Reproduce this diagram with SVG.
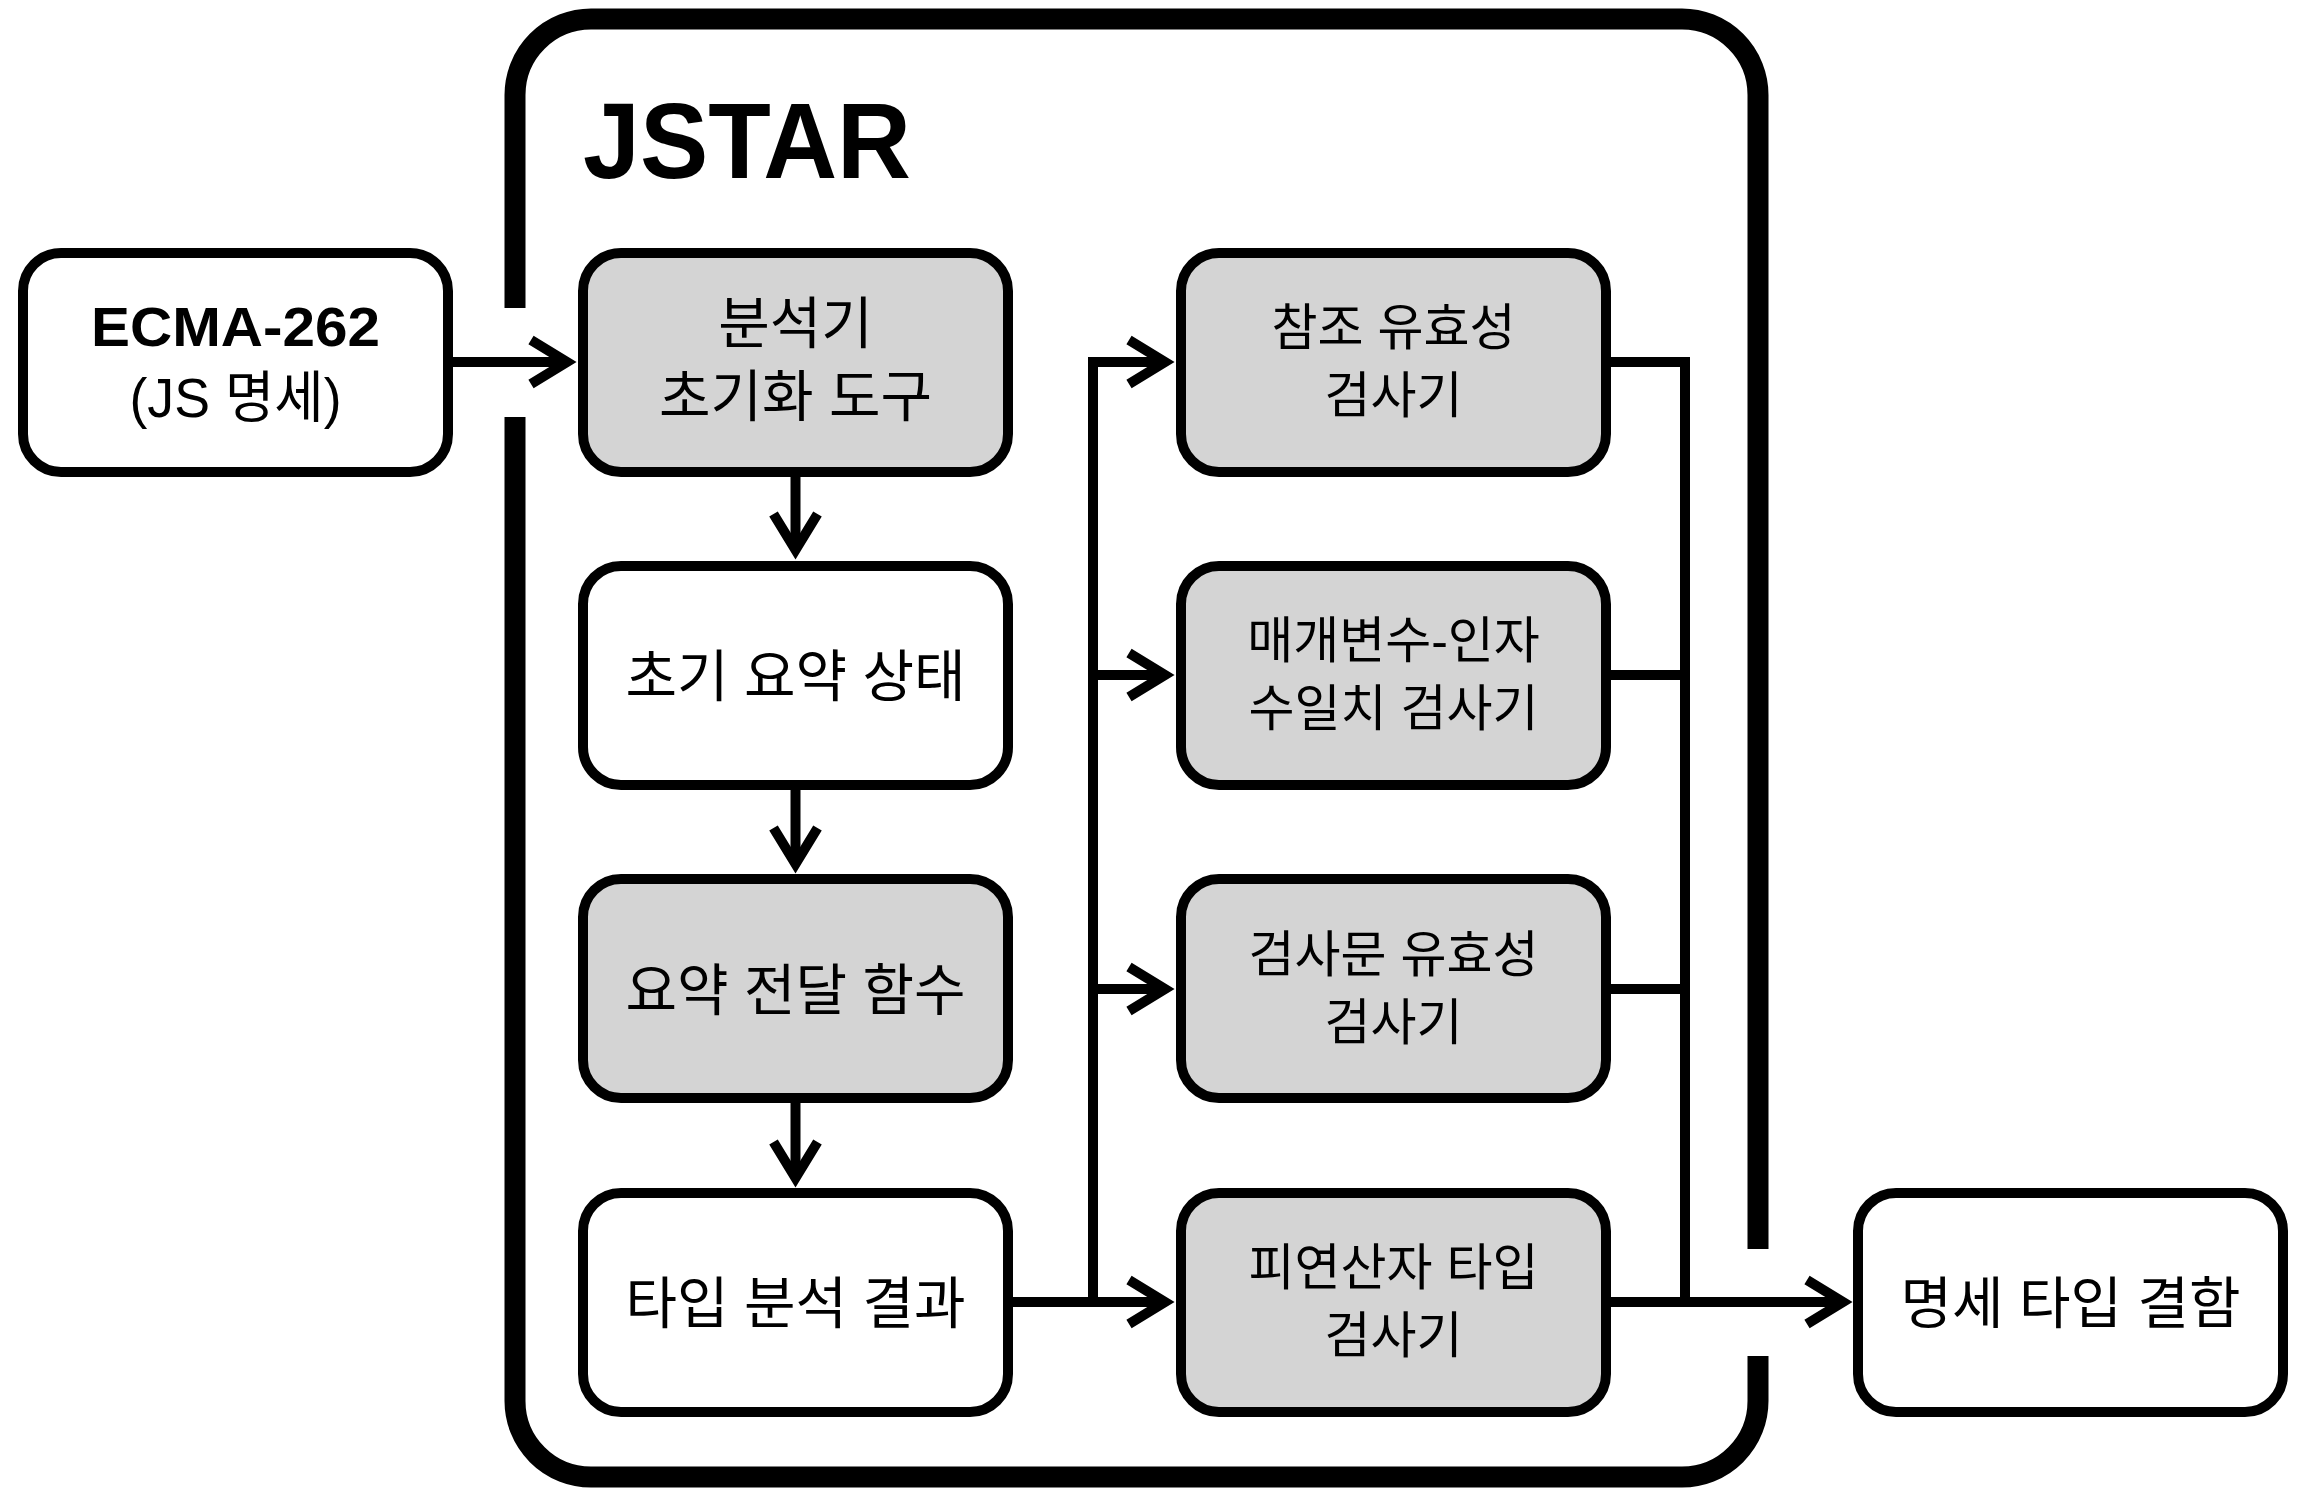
<svg xmlns="http://www.w3.org/2000/svg" width="2307" height="1488" viewBox="0 0 2307 1488">
  <style>
    .box { stroke: #000; stroke-width: 10; }
    .grey { fill: #d4d4d4; }
    .white { fill: #fff; }
    .wire { fill: none; stroke: #000; stroke-width: 10; stroke-linejoin: miter; }
    .lbl { font-family: "Liberation Sans", "Noto Sans CJK KR", sans-serif; font-size: 56px; text-anchor: middle; fill: #000; }
    .sm { font-size: 50px; }
  </style>
  <defs>
    <marker id="arrow" viewBox="-50 -30 70 60" refX="0" refY="0" markerWidth="70" markerHeight="60" markerUnits="userSpaceOnUse" orient="auto">
      <path d="M-36,-22 L0,0 L-36,22" fill="none" stroke="#000" stroke-width="10" stroke-linejoin="miter" stroke-miterlimit="10"/>
    </marker>
  </defs>
  <rect width="2307" height="1488" fill="#fff"/>

  <!-- JSTAR container with openings for input and output -->
  <g id="jstar">
    <path d="M515 308 V95 A76 76 0 0 1 591 19 H1682 A76 76 0 0 1 1758 95 V1249 M1758 1356 V1401 A76 76 0 0 1 1682 1477 H591 A76 76 0 0 1 515 1401 V417" fill="none" stroke="#000" stroke-width="21"/>
    <text x="583" y="178" font-family="'Liberation Sans', sans-serif" font-weight="bold" font-size="108" textLength="328" lengthAdjust="spacingAndGlyphs">JSTAR</text>
  </g>

  <!-- connectors -->
  <g id="connectors">
    <path class="wire" d="M448 362 H567" marker-end="url(#arrow)"/>
    <path class="wire" d="M795.5 472 V550" marker-end="url(#arrow)"/>
    <path class="wire" d="M795.5 785 V864" marker-end="url(#arrow)"/>
    <path class="wire" d="M795.5 1098 V1178" marker-end="url(#arrow)"/>
    <path class="wire" d="M1008 1302 H1165" marker-end="url(#arrow)"/>
    <path class="wire" d="M1093 1302 V362 H1165" marker-end="url(#arrow)"/>
    <path class="wire" d="M1093 675 H1165" marker-end="url(#arrow)"/>
    <path class="wire" d="M1093 989 H1165" marker-end="url(#arrow)"/>
    <path class="wire" d="M1606 362 H1685 V1302"/>
    <path class="wire" d="M1606 675 H1685"/>
    <path class="wire" d="M1606 989 H1685"/>
    <path class="wire" d="M1606 1302 H1843" marker-end="url(#arrow)"/>
  </g>

  <g id="ecma262">
    <rect class="box white" x="23" y="253" width="425" height="219" rx="38"/>
    <text class="lbl" x="235.5" y="346" font-weight="bold" font-size="60" textLength="289" lengthAdjust="spacingAndGlyphs">ECMA-262</text>
    <text class="lbl" x="235.5" y="417" font-size="50" textLength="212" lengthAdjust="spacingAndGlyphs">(JS 명세)</text>
  </g>

  <g id="init-tool">
    <rect class="box grey" x="583" y="253" width="425" height="219" rx="38"/>
    <text class="lbl" x="795.5" y="343">분석기</text>
    <text class="lbl" x="795.5" y="416">초기화 도구</text>
  </g>

  <g id="init-state">
    <rect class="box white" x="583" y="566" width="425" height="219" rx="38"/>
    <text class="lbl" x="795.5" y="696">초기 요약 상태</text>
  </g>

  <g id="transfer">
    <rect class="box grey" x="583" y="879" width="425" height="219" rx="38"/>
    <text class="lbl" x="795.5" y="1010">요약 전달 함수</text>
  </g>

  <g id="analysis-result">
    <rect class="box white" x="583" y="1193" width="425" height="219" rx="38"/>
    <text class="lbl" x="795.5" y="1323">타입 분석 결과</text>
  </g>

  <g id="ref-checker">
    <rect class="box grey" x="1181" y="253" width="425" height="219" rx="38"/>
    <text class="lbl sm" x="1393.5" y="345">참조 유효성</text>
    <text class="lbl sm" x="1393.5" y="413">검사기</text>
  </g>

  <g id="arity-checker">
    <rect class="box grey" x="1181" y="566" width="425" height="219" rx="38"/>
    <text class="lbl sm" x="1393.5" y="658">매개변수-인자</text>
    <text class="lbl sm" x="1393.5" y="726">수일치 검사기</text>
  </g>

  <g id="assert-checker">
    <rect class="box grey" x="1181" y="879" width="425" height="219" rx="38"/>
    <text class="lbl sm" x="1393.5" y="972">검사문 유효성</text>
    <text class="lbl sm" x="1393.5" y="1040">검사기</text>
  </g>

  <g id="operand-checker">
    <rect class="box grey" x="1181" y="1193" width="425" height="219" rx="38"/>
    <text class="lbl sm" x="1393.5" y="1285">피연산자 타입</text>
    <text class="lbl sm" x="1393.5" y="1353">검사기</text>
  </g>

  <g id="spec-type-bug">
    <rect class="box white" x="1858" y="1193" width="425" height="219" rx="38"/>
    <text class="lbl" x="2070.5" y="1323">명세 타입 결함</text>
  </g>
</svg>
